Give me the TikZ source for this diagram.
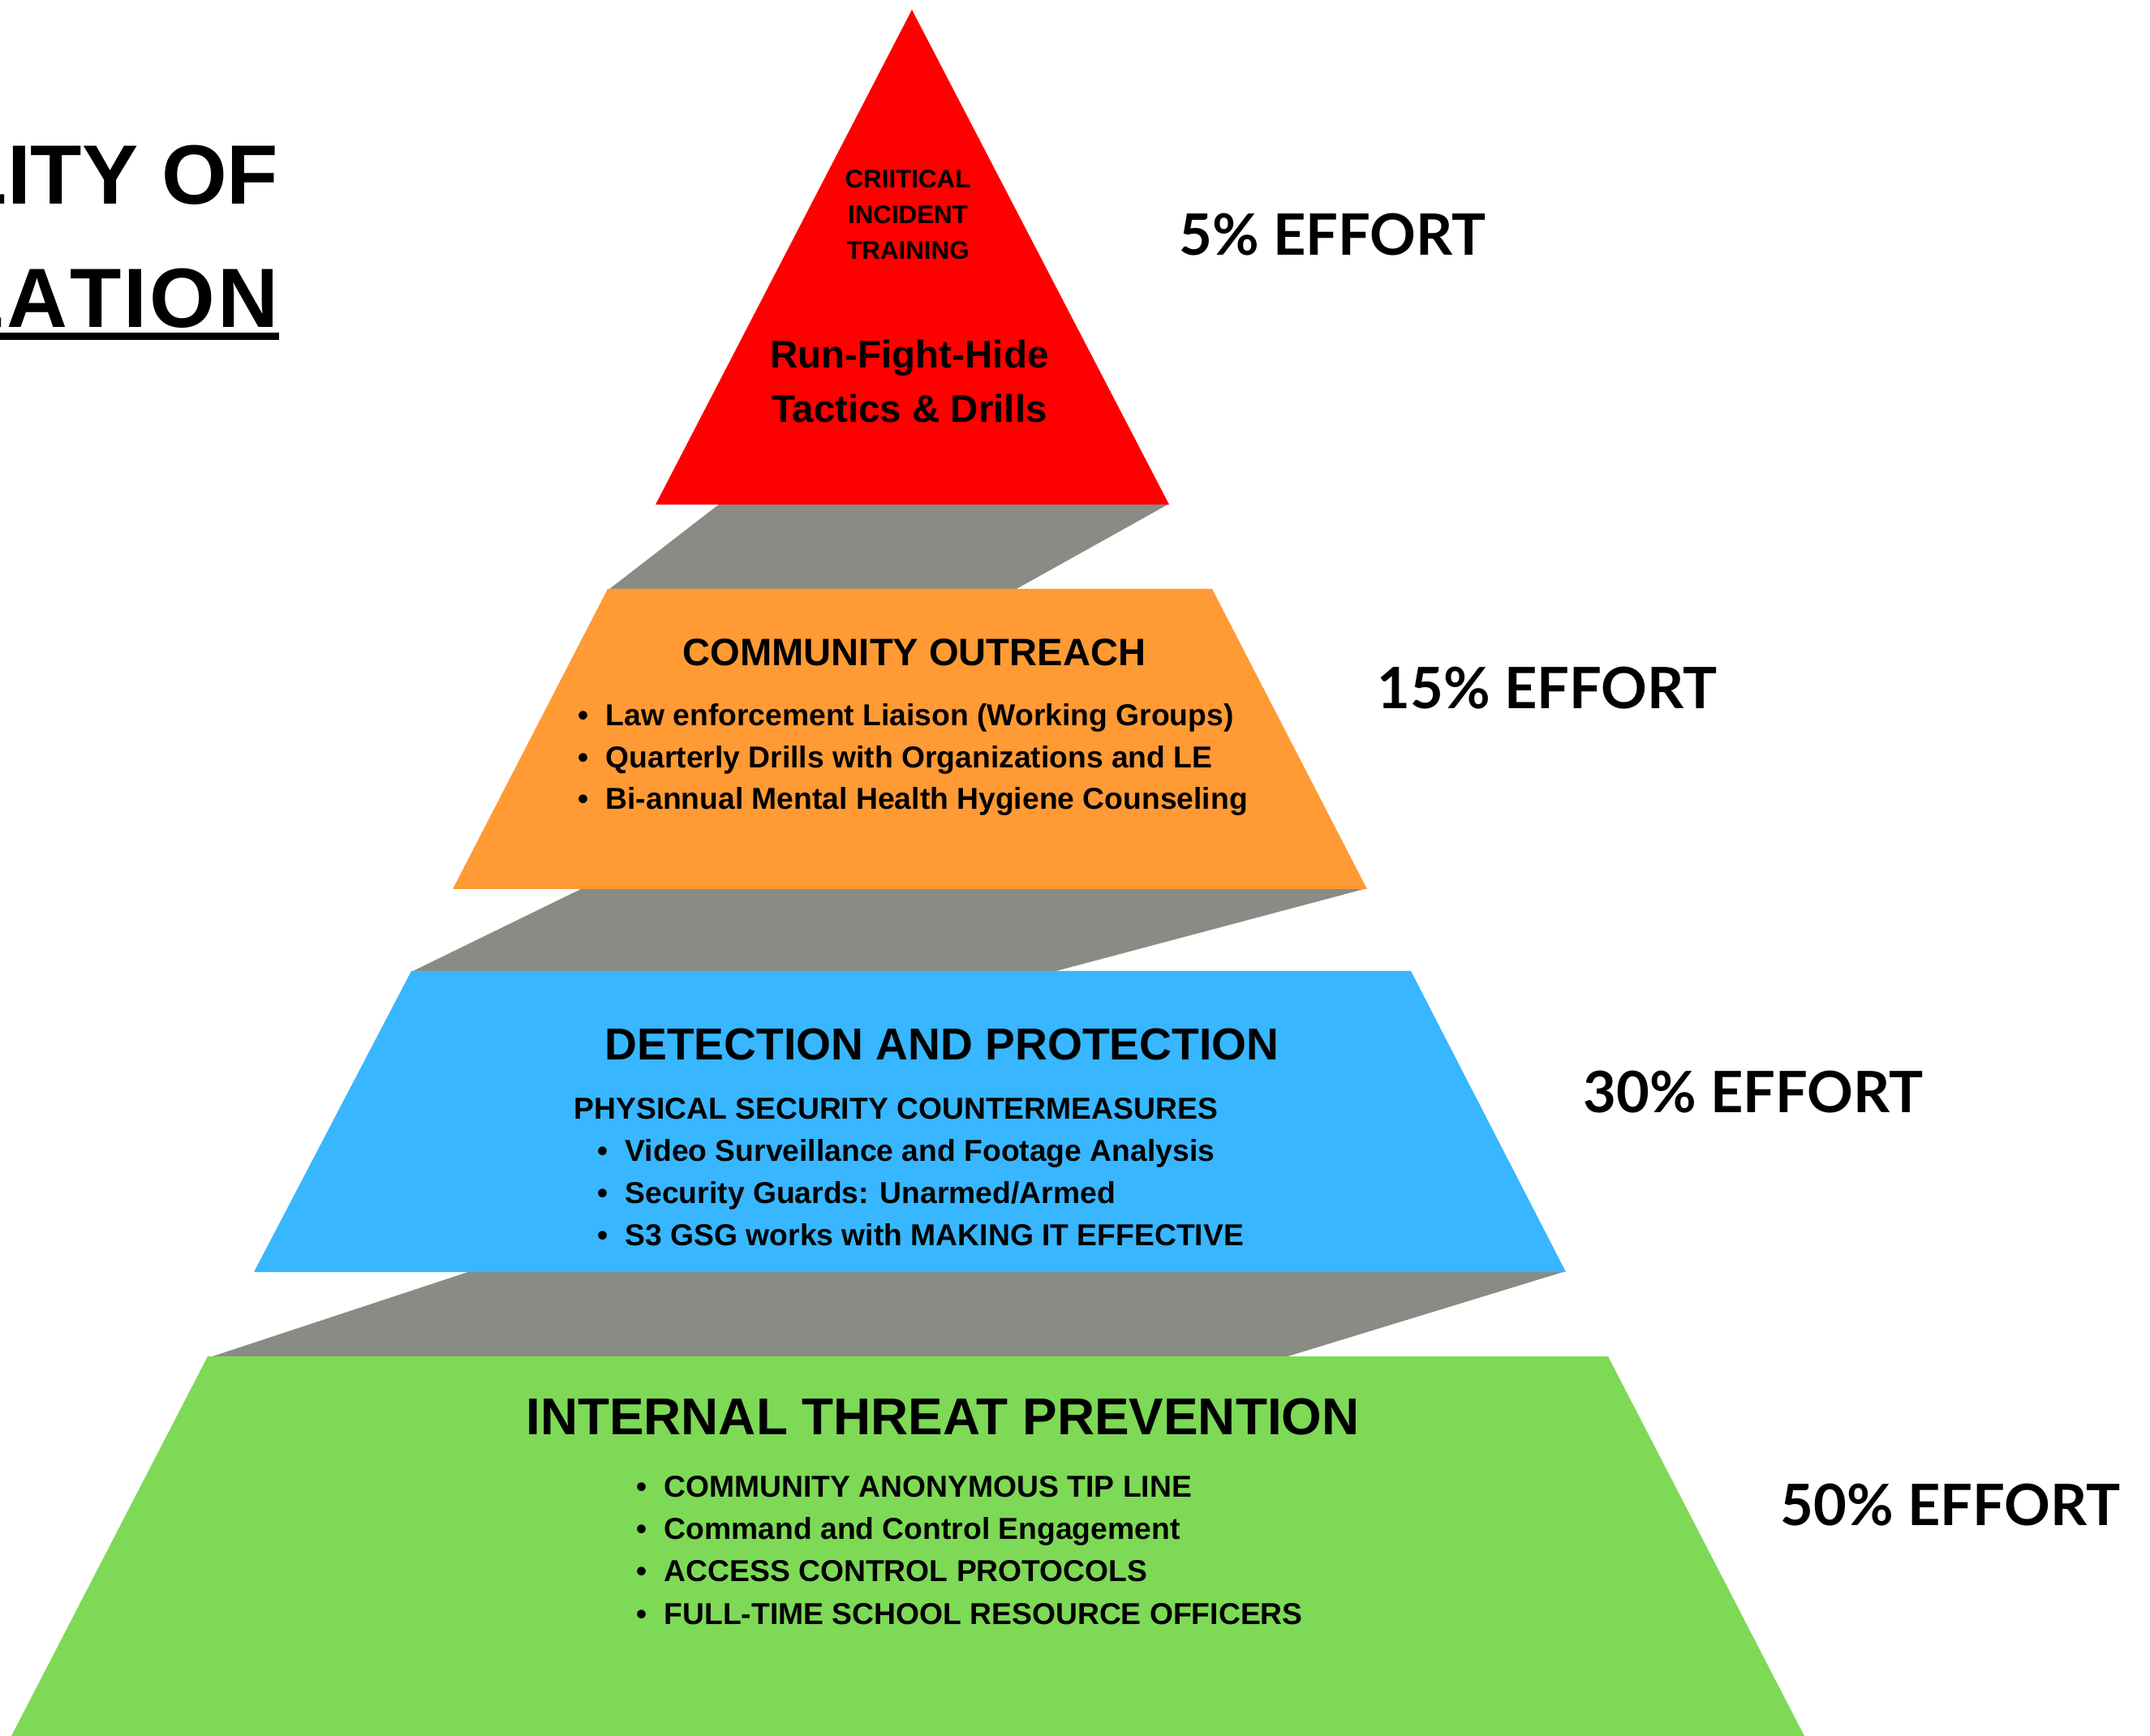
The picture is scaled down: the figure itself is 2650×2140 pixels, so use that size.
\documentclass[tikz,border=0pt]{standalone}
\usepackage{fontspec}
\setmainfont{Liberation Sans}
\newfontfamily\effortfont{Lato}
\newfontfamily\titlefont{Liberation Sans}[Kerning=Off]

\definecolor{tierred}{HTML}{FF0000}
\definecolor{tierorange}{HTML}{FF9A35}
\definecolor{tierblue}{HTML}{38B6FF}
\definecolor{tiergreen}{HTML}{7ED957}
\definecolor{bandgray}{HTML}{8A8B85}

\tikzset{
  titletext/.style={anchor=base east, inner sep=0pt, font=\titlefont\bfseries\fontsize{29.5}{34}\selectfont},
  tiertext/.style={align=center, inner sep=0pt},
  listitem/.style={anchor=base west, inner sep=0pt, font=\bfseries\fontsize{10.6}{12}\selectfont},
  effortlabel/.style={anchor=base west, inner sep=0pt, font=\effortfont\bfseries\fontsize{20}{24}\selectfont},
}
\newcommand{\itembullet}{\llap{\textbullet\hspace{0.21cm}}}

\begin{document}
\begin{tikzpicture}[x=0.01cm, y=-0.01cm]
        \useasboundingbox (0,0) rectangle (2650,2140);
        \clip (0,0) rectangle (2650,2140);

        % Title, cut off at the left edge
        \node[titletext] (titletop) at (344,252) {LITY OF};
        \node[titletext] (titlebottom) at (344,404) {\addfontfeature{LetterSpace=3}L\kern1pt{}ATION};
        \fill ([yshift=-0.06cm]titlebottom.base west) rectangle ([yshift=-0.15cm]titlebottom.base east);

        % Gray bands between the tiers
        \fill[bandgray] (887,621) -- (1441,621) -- (1251,727) -- (750,727) -- cycle;
        \fill[bandgray] (718,1095) -- (1685,1095) -- (1298,1198) -- (507,1198) -- cycle;
        \fill[bandgray] (580,1567) -- (1930,1567) -- (1584,1673) -- (259,1673) -- cycle;

        % Tiers of the pyramid
        \fill[tierred] (1124,12) -- (1441,622) -- (808,622) -- cycle;
        \fill[tierorange] (749,726) -- (1494,726) -- (1685,1096) -- (558,1096) -- cycle;
        \fill[tierblue] (507,1197) -- (1739,1197) -- (1930,1568) -- (313,1568) -- cycle;
        \fill[tiergreen] (256,1672) -- (1982,1672) -- (2224,2140) -- (14,2140) -- cycle;

        % Top tier
        \node[tiertext, font=\bfseries\fontsize{8.9}{12.5}\selectfont] (critical) at (1119,265) {CRIITICAL\\INCIDENT\\TRAINING};
        \node[tiertext, font=\bfseries\fontsize{13.5}{18.8}\selectfont] (runfight) at (1121,470) {Run-Fight-Hide\\Tactics \& Drills};

        % Second tier
        \node[tiertext, font=\bfseries\fontsize{13.4}{16}\selectfont] (outreach) at (1127,804) {COMMUNITY OUTREACH};
        \foreach \txt [count=\i, evaluate=\i as \yy using 843.5+51.5*\i] in
            {{Law enforcement Liaison (Working Groups)},
             {Quarterly Drills with Organizations and LE},
             {Bi-annual Mental Health Hygiene Counseling}}
            \node[listitem] (outreach\i) at (746,\yy) {\itembullet\txt};

        % Third tier
        \node[tiertext, font=\bfseries\fontsize{15.7}{18}\selectfont] (detection) at (1161,1287) {DETECTION AND PROTECTION};
        \node[tiertext, anchor=west, font=\bfseries\fontsize{10.6}{12}\selectfont] (physical) at (707,1367) {PHYSICAL SECURITY COUNTERMEASURES};
        \foreach \txt [count=\i, evaluate=\i as \yy using 1380.5+51.5*\i] in
            {{Video Surveillance and Footage Analysis},
             {Security Guards: Unarmed/Armed},
             {S3 GSG works with MAKING IT EFFECTIVE}}
            \node[listitem] (detection\i) at (770,\yy) {\itembullet\txt};

        % Bottom tier
        \node[tiertext, font=\bfseries\fontsize{18.15}{21}\selectfont] (prevention) at (1162,1747) {INTERNAL THREAT PREVENTION};
        \foreach \txt [count=\i, evaluate=\i as \yy using 1793+52.3*\i] in
            {{COMMUNITY ANONYMOUS TIP LINE},
             {Command and Control Engagement},
             {ACCESS CONTROL PROTOCOLS},
             {FULL-TIME SCHOOL RESOURCE OFFICERS}}
            \node[listitem] (prevention\i) at (818,\yy) {\itembullet\txt};

        % Effort shares
        \node[effortlabel] (effort5) at (1453,315) {5\% EFFORT};
        \node[effortlabel] (effort15) at (1697,874) {15\% EFFORT};
        \node[effortlabel] (effort30) at (1951,1372) {30\% EFFORT};
        \node[effortlabel] (effort50) at (2194,1880) {50\% EFFORT};
\end{tikzpicture}
\end{document}
